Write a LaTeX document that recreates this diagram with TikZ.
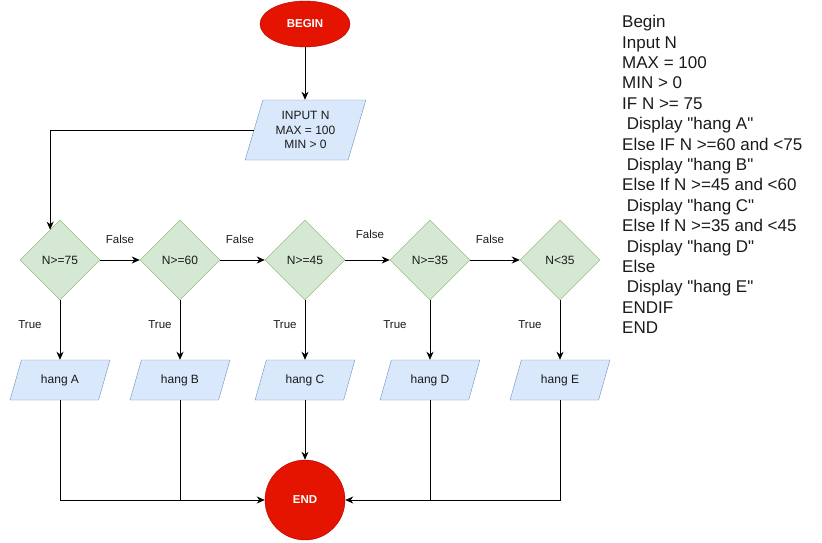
\documentclass[tikz,border=0pt]{standalone}
\usepackage{fontspec}
\setmainfont{Liberation Sans}
\usetikzlibrary{shapes.geometric,arrows.meta}

\definecolor{termfill}{HTML}{E51400}
\definecolor{termline}{HTML}{B20000}
\definecolor{decfill}{HTML}{D5E8D4}
\definecolor{decline}{HTML}{82B366}
\definecolor{iofill}{HTML}{DAE8FC}
\definecolor{ioline}{HTML}{6C8EBF}
\definecolor{ink}{HTML}{1A1A1A}

\newcommand{\qq}[1]{\textquotedbl#1\textquotedbl}

\tikzset{
  terminal/.style={ellipse, fill=termfill, draw=termline, text=white,
    font=\fontsize{11.5}{13}\selectfont\bfseries, inner sep=0pt},
  decision/.style={diamond, aspect=1, fill=decfill, draw=decline,
    minimum width=80pt, minimum height=80pt, inner sep=0pt, text=ink,
    font=\fontsize{12}{14}\selectfont},
  io/.style={trapezium, trapezium stretches=true,
    trapezium left angle=63.4, trapezium right angle=116.6,
    fill=iofill, draw=ioline, minimum width=100pt, minimum height=40pt,
    inner sep=0pt, text=ink, font=\fontsize{12}{14}\selectfont},
  flow/.style={draw=black, line width=1pt,
    -{Stealth[length=8pt,width=7pt,inset=2.5pt]}},
  link/.style={draw=black, line width=1pt},
  edgelabel/.style={font=\fontsize{11.5}{13}\selectfont, inner sep=0pt, text=ink}
}

\begin{document}
\begin{tikzpicture}[x=1pt, y=-1pt]
  \useasboundingbox (0,0) rectangle (822,542);

  % start and input
  \node[terminal, minimum width=90pt, minimum height=46pt] (begin) at (305,24) {BEGIN};
  \node[io, minimum width=121pt, minimum height=60pt,
        trapezium left angle=71.6, trapezium right angle=108.4,
        align=center, font=\fontsize{12}{14.5}\selectfont] (inp) at (305.5,130)
        {INPUT N\\MAX = 100\\MIN > 0};

  % decisions
  \node[decision] (d1) at (60,260)  {N>=75};
  \node[decision] (d2) at (180,260) {N>=60};
  \node[decision] (d3) at (305,260) {N>=45};
  \node[decision] (d4) at (430,260) {N>=35};
  \node[decision] (d5) at (560,260) {N<35};

  % outputs
  \node[io] (h1) at (60,380)  {hang A};
  \node[io] (h2) at (180,380) {hang B};
  \node[io] (h3) at (305,380) {hang C};
  \node[io] (h4) at (430,380) {hang D};
  \node[io] (h5) at (560,380) {hang E};

  % end
  \node[terminal, circle, minimum size=80pt] (stop) at (305,500) {END};

  % connectors
  \draw[flow] (begin.south) -- (begin.south |- inp.north);
  \draw[flow] (inp.west) -| (d1.108);

  \draw[flow] (d1.east) -- (d2.west);
  \draw[flow] (d2.east) -- (d3.west);
  \draw[flow] (d3.east) -- (d4.west);
  \draw[flow] (d4.east) -- (d5.west);

  \draw[flow] (d1.south) -- (d1.south |- h1.north);
  \draw[flow] (d2.south) -- (d2.south |- h2.north);
  \draw[flow] (d3.south) -- (d3.south |- h3.north);
  \draw[flow] (d4.south) -- (d4.south |- h4.north);
  \draw[flow] (d5.south) -- (d5.south |- h5.north);

  \draw[flow] (h1.center |- h1.south) |- (stop.west);
  \draw[link] (h2.center |- h2.south) -- (h2.center |- stop.west);
  \draw[flow] (h3.center |- h3.south) -- (stop.north);
  \draw[flow] (h5.center |- h5.south) |- (stop.east);
  \draw[link] (h4.center |- h4.south) -- (h4.center |- stop.east);

  % branch labels
  \node[edgelabel] (f1) at (120,239) {False};
  \node[edgelabel] (f2) at (240,239) {False};
  \node[edgelabel] (f3) at (370,234) {False};
  \node[edgelabel] (f4) at (490,239) {False};

  \node[edgelabel] (t1) at (30,325)  {True};
  \node[edgelabel] (t2) at (160,325) {True};
  \node[edgelabel] (t3) at (285,325) {True};
  \node[edgelabel] (t4) at (395,325) {True};
  \node[edgelabel] (t5) at (530,325) {True};

  % pseudocode
  \node[anchor=north west, align=left, inner sep=0pt, text=ink,
        font=\fontsize{17}{20.4}\selectfont] (code) at (622,15.1)
  {Begin\\
   Input N\\
   MAX = 100\\
   MIN > 0\\
   IF N >= 75\\
   \ Display \qq{hang A}\\
   Else IF N >=60 and <75\\
   \ Display \qq{hang B}\\
   Else If N >=45 and <60\\
   \ Display \qq{hang C}\\
   Else If N >=35 and <45\\
   \ Display \qq{hang D}\\
   Else\\
   \ Display \qq{hang E}\\
   ENDIF\\
   END};
\end{tikzpicture}
\end{document}
